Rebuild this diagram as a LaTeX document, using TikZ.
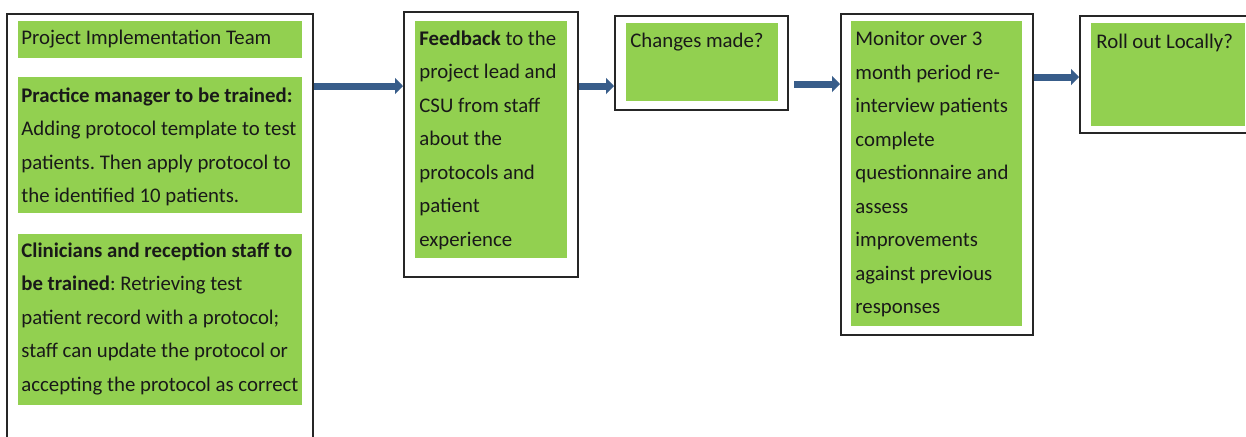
\documentclass[tikz,border=0pt]{standalone}
\usepackage{fontspec}
\setmainfont{Carlito}
\usetikzlibrary{fit,arrows.meta}
\definecolor{grn}{RGB}{146,208,80}
\definecolor{arrblue}{RGB}{56,93,138}
\definecolor{txtc}{RGB}{25,25,25}
\frenchspacing
\tikzset{
  outerbox/.style={draw=black!85, line width=1pt, inner sep=0pt, fill=white},
  greenbox/.style={fill=grn, draw=none, inner sep=0pt},
  txt/.style={anchor=north west, inner sep=0pt, align=left, text=txtc,
    font=\fontsize{10.4}{16.75}\selectfont},
  arr/.style={draw=arrblue, line width=3.5pt, -{Triangle[length=4pt,width=8pt]}},
}
\begin{document}
\begin{tikzpicture}[x=0.5pt,y=-0.5pt]
\clip (0,0) rectangle (1246,436);
\fill[white] (0,0) rectangle (1246,436);
% outer boxes
\node[outerbox, fit={(7,14) (313,460)}] (b1) {};
\node[outerbox, fit={(404,12) (578,277)}] (b2) {};
\node[outerbox, fit={(615,16) (788,110)}] (b3) {};
\node[outerbox, fit={(841,14) (1033,335)}] (b4) {};
\node[outerbox, fit={(1080,16) (1252,133)}] (b5) {};
% green boxes
\node[greenbox, fit={(18,21) (302,58)}] (g1) {};
\node[greenbox, fit={(18,77) (302,213)}] (g2) {};
\node[greenbox, fit={(18,234) (302,405)}] (g3) {};
\node[greenbox, fit={(415,21) (567,258)}] (g4) {};
\node[greenbox, fit={(626,23) (778,101)}] (g5) {};
\node[greenbox, fit={(851,21) (1022,326)}] (g6) {};
\node[greenbox, fit={(1091,23) (1245,126)}] (g7) {};
% texts
\node[txt] (t1) at (21,30) {Project Implementation Team};
\node[txt] (t2) at (21,87) {\textbf{Practice manager to be trained:}\\Adding protocol template to test\\patients. Then apply protocol to\\the identified 10 patients.};
\node[txt] (t3) at (21,242) {\textbf{Clinicians and reception staff to}\\\textbf{be trained}: Retrieving test\\patient record with a protocol;\\staff can update the protocol or\\accepting the protocol as correct};
\node[txt] (t4) at (419,30) {\textbf{Feedback} to the\\project lead and\\CSU from staff\\about the\\protocols and\\patient\\experience};
\node[txt] (t5) at (630,33) {Changes made?};
\node[txt] (t6) at (855,31) {Monitor over 3\\month period re-\\interview patients\\complete\\questionnaire and\\assess\\improvements\\against previous\\responses};
\node[txt] (t7) at (1096,34) {Roll out Locally?};
% arrows
\draw[arr] (b1.east |- 0,86) -- (b2.west |- 0,86);
\draw[arr] (b2.east |- 0,86) -- (b3.west |- 0,86);
\draw[arr] ([xshift=2.5pt]b3.east |- 0,84) -- (b4.west |- 0,84);
\draw[arr] (b4.east |- 0,77) -- (b5.west |- 0,77);
\end{tikzpicture}
\end{document}
